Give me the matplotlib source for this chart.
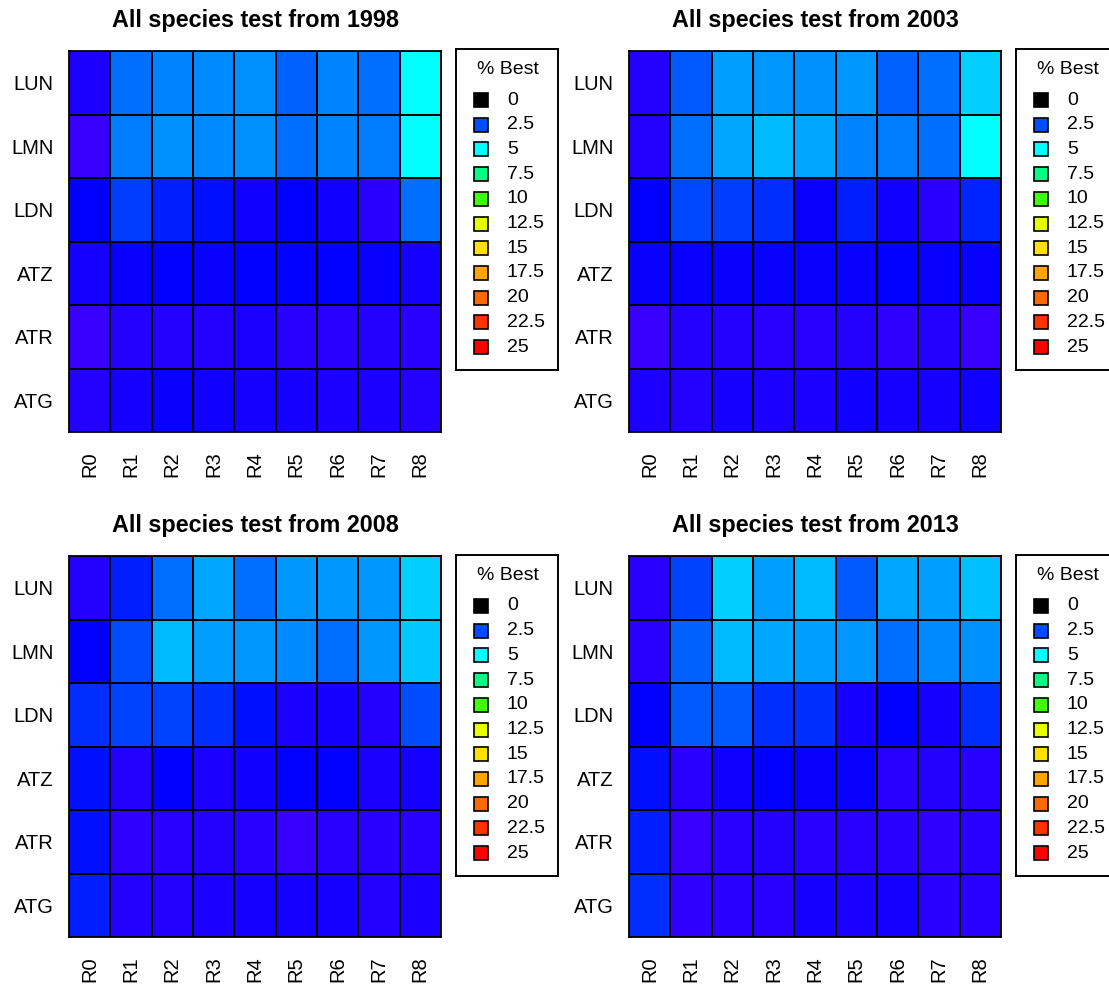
import numpy as np
import matplotlib
matplotlib.use("Agg")
import matplotlib.pyplot as plt
from matplotlib.colors import LinearSegmentedColormap, Normalize
from matplotlib.patches import Rectangle

plt.rcParams["font.family"] = ["Liberation Sans", "DejaVu Sans"]

# ---- data (% best) ----
species = ["LUN", "LMN", "LDN", "ATZ", "ATR", "ATG"]
runs = ["R0", "R1", "R2", "R3", "R4", "R5", "R6", "R7", "R8"]
years = [1998, 2003, 2008, 2013]

pct_1998 = [
    [0.60, 3.00, 3.30, 3.40, 3.50, 2.80, 3.30, 2.95, 5.00],
    [0.25, 3.15, 3.50, 3.40, 3.50, 3.00, 3.30, 3.15, 5.00],
    [1.00, 2.20, 1.60, 1.30, 0.85, 1.00, 0.85, 0.40, 3.00],
    [0.75, 0.88, 1.00, 0.95, 1.00, 1.00, 1.05, 0.95, 0.75],
    [0.25, 0.50, 0.55, 0.50, 0.60, 0.40, 0.45, 0.50, 0.40],
    [0.50, 0.70, 0.90, 0.85, 0.70, 0.75, 0.65, 0.65, 0.50],
]
pct_2003 = [
    [0.50, 2.70, 3.70, 3.55, 3.50, 3.55, 2.80, 3.00, 4.30],
    [0.55, 2.95, 3.80, 4.05, 3.80, 3.30, 3.15, 3.00, 5.00],
    [1.00, 2.35, 2.20, 1.90, 0.90, 1.60, 0.80, 0.40, 1.75],
    [0.90, 0.95, 0.95, 0.90, 0.95, 0.92, 1.00, 0.90, 0.90],
    [0.25, 0.50, 0.50, 0.40, 0.45, 0.50, 0.30, 0.55, 0.25],
    [0.60, 0.55, 0.75, 0.65, 0.65, 0.85, 0.70, 0.70, 0.85],
]
pct_2008 = [
    [0.50, 1.60, 2.95, 3.80, 2.95, 3.55, 3.55, 3.55, 4.35],
    [1.00, 2.50, 4.05, 3.70, 3.55, 3.40, 2.95, 3.55, 4.20],
    [1.95, 2.25, 2.25, 1.95, 1.30, 0.60, 0.75, 0.50, 2.50],
    [1.30, 0.50, 1.00, 0.60, 0.80, 1.00, 1.05, 0.60, 0.75],
    [1.30, 0.30, 0.40, 0.50, 0.40, 0.25, 0.45, 0.45, 0.40],
    [1.60, 0.50, 0.50, 0.60, 0.70, 0.70, 0.75, 0.50, 0.60],
]
pct_2013 = [
    [0.45, 2.25, 4.30, 3.70, 4.05, 2.70, 3.80, 3.70, 4.15],
    [0.40, 2.80, 4.10, 3.80, 3.70, 3.55, 2.95, 3.40, 3.50],
    [1.00, 2.70, 2.70, 1.95, 1.90, 0.70, 1.00, 0.75, 1.95],
    [1.30, 0.40, 0.80, 1.00, 0.90, 0.95, 0.40, 0.50, 0.45],
    [1.60, 0.25, 0.45, 0.50, 0.40, 0.40, 0.45, 0.30, 0.40],
    [1.90, 0.30, 0.45, 0.40, 0.70, 0.60, 0.70, 0.40, 0.45],
]
panels = [pct_1998, pct_2003, pct_2008, pct_2013]

legend_levels = [0, 2.5, 5, 7.5, 10, 12.5, 15, 17.5, 20, 22.5, 25]
legend_labels = ["0", "2.5", "5", "7.5", "10", "12.5", "15", "17.5", "20", "22.5", "25"]

# ---- colour scale ----
vmax = 25
anchors = [(0, "#4400FF"), (1, "#0000FF"), (2.5, "#0050FF"), (5, "#00FFFF"),
           (7.5, "#00FF80"), (10, "#40FF00"), (12.5, "#E6FF00"), (15, "#FFE000"),
           (17.5, "#FFA500"), (20, "#FF6A00"), (22.5, "#FF3300"), (25, "#FF0000")]
cmap = LinearSegmentedColormap.from_list("best", [(v / vmax, c) for v, c in anchors])
norm = Normalize(0, vmax)

W, H = 1109, 985
fig = plt.figure(figsize=(W / 100, H / 100), dpi=100)

def px_axes(x0, y0, w, h):
    return fig.add_axes([x0 / W, 1 - (y0 + h) / H, w / W, h / H])

grid_x = [69, 629, 69, 629]
grid_y = [51, 51, 556, 556]
leg_x = [456, 1016, 456, 1016]
leg_y = [49, 49, 555, 555]

for k, (vals, year) in enumerate(zip(panels, years)):
    ax = px_axes(grid_x[k], grid_y[k], 372, 381)
    ax.pcolormesh(np.array(vals), cmap=cmap, norm=norm,
                  edgecolors="black", linewidth=1.1)
    ax.set_xlim(0, len(runs))
    ax.set_ylim(len(species), 0)
    ax.set_xticks(np.arange(len(runs)) + 0.5)
    ax.set_xticklabels(runs, rotation=90, fontsize=14.5)
    ax.set_yticks(np.arange(len(species)) + 0.5)
    ax.set_yticklabels(species, fontsize=14.5)
    ax.tick_params(axis="y", length=0, pad=11)
    ax.tick_params(axis="x", length=0, pad=14)
    for s in ax.spines.values():
        s.set_linewidth(1.3)
    ax.set_title(f"All species test from {year}", fontsize=16.8, fontweight="bold", pad=17)

    # legend box
    lg = px_axes(leg_x[k], leg_y[k], 102, 321)
    lg.set_xlim(0, 102)
    lg.set_ylim(321, 0)
    lg.set_xticks([])
    lg.set_yticks([])
    for s in lg.spines.values():
        s.set_linewidth(1.4)
    lg.text(51.5, 20, "% Best", ha="center", va="center", fontsize=14)
    for i, (lev, lab) in enumerate(zip(legend_levels, legend_labels)):
        yc = 51 + i * 24.7
        fc = "black" if lev == 0 else cmap(norm(lev))
        lg.add_patch(Rectangle((18, yc - 7), 14, 14, facecolor=fc,
                               edgecolor="black", linewidth=1.2))
        lg.text(51, yc, lab, ha="left", va="center", fontsize=14)

fig.savefig("out.png", dpi=100)
